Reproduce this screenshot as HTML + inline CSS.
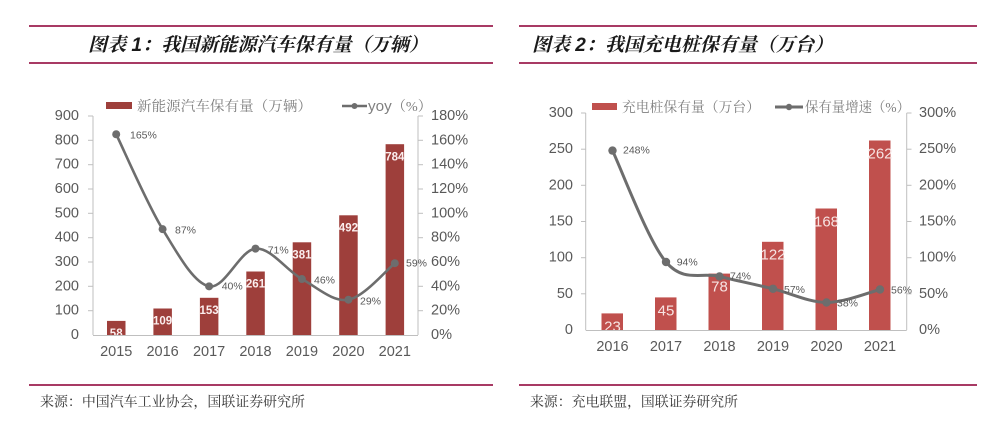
<!DOCTYPE html>
<html><head><meta charset="utf-8"><style>
html,body{margin:0;padding:0;background:#fff;}
svg{display:block;}
.tk{font-family:"Liberation Sans",Arial,sans-serif;font-size:14.5px;fill:#595959;}
.lb{font-family:"Liberation Sans",Arial,sans-serif;font-size:10.5px;fill:#595959;}
.lg{font-family:"Liberation Serif","Noto Serif CJK SC",serif;font-size:14px;fill:#7f7f7f;}
.ft{font-family:"Liberation Serif","Noto Serif CJK SC",serif;font-size:14px;fill:#333;}
.tt{font-family:"Liberation Sans","Noto Serif CJK SC",serif;font-size:19px;font-weight:bold;font-style:italic;fill:#1a1a1a;}
</style></head><body>
<svg width="1000" height="424" viewBox="0 0 1000 424" xmlns="http://www.w3.org/2000/svg">
<defs>
<clipPath id="c1"><rect x="90" y="100" width="330" height="235"/></clipPath>
<clipPath id="c2"><rect x="583" y="100" width="326" height="230"/></clipPath>
</defs>
<rect width="1000" height="424" fill="#fff"/>

<!-- ===== LEFT PANEL ===== -->
<rect x="29" y="25" width="464" height="2" fill="#a83a64"/>
<rect x="29" y="62" width="464" height="2" fill="#a83a64"/>
<text class="tt" x="88" y="51" textLength="340" lengthAdjust="spacingAndGlyphs">图表 1：我国新能源汽车保有量（万辆）</text>

<rect x="29" y="384" width="464" height="2" fill="#a83a64"/>
<text class="ft" x="40" y="406.5" textLength="265" lengthAdjust="spacingAndGlyphs">来源：中国汽车工业协会，国联证券研究所</text>

<!-- legend -->
<rect x="106" y="102" width="26" height="7" fill="#9e3f3b"/>
<text class="lg" x="137" y="111" textLength="175" lengthAdjust="spacingAndGlyphs">新能源汽车保有量（万辆）</text>
<line x1="342" y1="106" x2="367" y2="106" stroke="#6d6d6d" stroke-width="2.5"/>
<circle cx="354.5" cy="106" r="3" fill="#6d6d6d"/>
<text class="lg" x="368" y="111" textLength="64" lengthAdjust="spacingAndGlyphs"><tspan font-family="Liberation Sans" font-size="15">yoy</tspan>（%）</text>

<!-- axes -->
<g stroke="#bfbfbf" stroke-width="1">
<line x1="93" y1="116" x2="93" y2="335"/>
<line x1="418" y1="116" x2="418" y2="335"/>
<line x1="93" y1="335.5" x2="418" y2="335.5"/>
<line x1="88" y1="116" x2="93" y2="116"/><line x1="88" y1="140.3" x2="93" y2="140.3"/><line x1="88" y1="164.7" x2="93" y2="164.7"/><line x1="88" y1="189" x2="93" y2="189"/><line x1="88" y1="213.3" x2="93" y2="213.3"/><line x1="88" y1="237.7" x2="93" y2="237.7"/><line x1="88" y1="262" x2="93" y2="262"/><line x1="88" y1="286.3" x2="93" y2="286.3"/><line x1="88" y1="310.7" x2="93" y2="310.7"/>
<line x1="418" y1="116" x2="423" y2="116"/><line x1="418" y1="140.3" x2="423" y2="140.3"/><line x1="418" y1="164.7" x2="423" y2="164.7"/><line x1="418" y1="189" x2="423" y2="189"/><line x1="418" y1="213.3" x2="423" y2="213.3"/><line x1="418" y1="237.7" x2="423" y2="237.7"/><line x1="418" y1="262" x2="423" y2="262"/><line x1="418" y1="286.3" x2="423" y2="286.3"/><line x1="418" y1="310.7" x2="423" y2="310.7"/>
</g>
<g class="tk" text-anchor="end" dominant-baseline="central">
<text x="79" y="116">900</text><text x="79" y="140.3">800</text><text x="79" y="164.7">700</text><text x="79" y="189">600</text><text x="79" y="213.3">500</text><text x="79" y="237.7">400</text><text x="79" y="262">300</text><text x="79" y="286.3">200</text><text x="79" y="310.7">100</text><text x="79" y="335">0</text>
</g>
<g class="tk" text-anchor="start" dominant-baseline="central">
<text x="431" y="116">180%</text><text x="431" y="140.3">160%</text><text x="431" y="164.7">140%</text><text x="431" y="189">120%</text><text x="431" y="213.3">100%</text><text x="431" y="237.7">80%</text><text x="431" y="262">60%</text><text x="431" y="286.3">40%</text><text x="431" y="310.7">20%</text><text x="431" y="335">0%</text>
</g>
<g class="tk" text-anchor="middle" dominant-baseline="central">
<text x="116.2" y="352">2015</text><text x="162.6" y="352">2016</text><text x="209.1" y="352">2017</text><text x="255.5" y="352">2018</text><text x="301.9" y="352">2019</text><text x="348.4" y="352">2020</text><text x="394.8" y="352">2021</text>
</g>

<!-- bars -->
<g fill="#9e3f3b">
<rect x="107" y="320.9" width="18.5" height="14.1"/>
<rect x="153.4" y="308.5" width="18.5" height="26.5"/>
<rect x="199.9" y="297.8" width="18.5" height="37.2"/>
<rect x="246.3" y="271.5" width="18.5" height="63.5"/>
<rect x="292.7" y="242.3" width="18.5" height="92.7"/>
<rect x="339.2" y="215.3" width="18.5" height="119.7"/>
<rect x="385.6" y="144.2" width="18.5" height="190.8"/>
</g>
<g clip-path="url(#c1)" font-family="Liberation Sans,Arial,sans-serif" font-size="11.5" font-weight="bold" fill="#fbeeee" text-anchor="middle" dominant-baseline="central">
<text x="116.2" y="334">58</text>
<text x="162.6" y="321.7">109</text>
<text x="209.1" y="311">153</text>
<text x="255.5" y="284.7">261</text>
<text x="301.9" y="255.5">381</text>
<text x="348.4" y="228.5">492</text>
<text x="394.8" y="157.5">784</text>
</g>

<!-- line -->
<path d="M116.2,134.25 C123.9,150.07 147.1,203.8 162.6,229.15 C178.1,254.5 193.6,283.1 209.1,286.33 C224.6,289.6 240,249.8 255.5,248.62 C271,247.4 286.4,270.5 301.9,279.03 C317.4,287.55 332.9,302.4 348.4,299.72 C363.9,297.1 387.1,269.3 394.8,263.22" fill="none" stroke="#6d6d6d" stroke-width="2.6"/>
<g fill="#6d6d6d">
<circle cx="116.2" cy="134.25" r="4"/><circle cx="162.6" cy="229.15" r="4"/><circle cx="209.1" cy="286.33" r="4"/><circle cx="255.5" cy="248.62" r="4"/><circle cx="301.9" cy="279.03" r="4"/><circle cx="348.4" cy="299.72" r="4"/><circle cx="394.8" cy="263.22" r="4"/>
</g>
<g class="lb" dominant-baseline="central">
<text x="130" y="135.3">165%</text>
<text x="175" y="230.7">87%</text>
<text x="221.7" y="286.7">40%</text>
<text x="267.7" y="250.7">71%</text>
<text x="314" y="280.7">46%</text>
<text x="360" y="301.7">29%</text>
<text x="406" y="263.7">59%</text>
</g>

<!-- ===== RIGHT PANEL ===== -->
<rect x="519" y="25" width="458" height="2" fill="#a83a64"/>
<rect x="519" y="62" width="458" height="2" fill="#a83a64"/>
<text class="tt" x="532" y="51" textLength="301" lengthAdjust="spacingAndGlyphs">图表 2：我国充电桩保有量（万台）</text>

<rect x="519" y="384" width="458" height="2" fill="#a83a64"/>
<text class="ft" x="530" y="406.5" textLength="208" lengthAdjust="spacingAndGlyphs">来源：充电联盟，国联证券研究所</text>

<!-- legend -->
<rect x="592" y="103" width="25" height="7" fill="#c0504d"/>
<text class="lg" x="622" y="112" textLength="138" lengthAdjust="spacingAndGlyphs">充电桩保有量（万台）</text>
<line x1="775" y1="107" x2="803" y2="107" stroke="#6d6d6d" stroke-width="3"/>
<circle cx="789" cy="107" r="3.2" fill="#6d6d6d"/>
<text class="lg" x="805" y="112" textLength="105" lengthAdjust="spacingAndGlyphs">保有量增速（%）</text>

<!-- axes -->
<g stroke="#bfbfbf" stroke-width="1">
<line x1="585.7" y1="113" x2="585.7" y2="330"/>
<line x1="906.7" y1="113" x2="906.7" y2="330"/>
<line x1="585.7" y1="330.5" x2="906.7" y2="330.5"/>
<line x1="581" y1="113" x2="585.7" y2="113"/><line x1="581" y1="149.2" x2="585.7" y2="149.2"/><line x1="581" y1="185.3" x2="585.7" y2="185.3"/><line x1="581" y1="221.5" x2="585.7" y2="221.5"/><line x1="581" y1="257.7" x2="585.7" y2="257.7"/><line x1="581" y1="293.8" x2="585.7" y2="293.8"/>
<line x1="906.7" y1="113" x2="911.5" y2="113"/><line x1="906.7" y1="149.2" x2="911.5" y2="149.2"/><line x1="906.7" y1="185.3" x2="911.5" y2="185.3"/><line x1="906.7" y1="221.5" x2="911.5" y2="221.5"/><line x1="906.7" y1="257.7" x2="911.5" y2="257.7"/><line x1="906.7" y1="293.8" x2="911.5" y2="293.8"/>
</g>
<g class="tk" text-anchor="end" dominant-baseline="central">
<text x="573" y="113">300</text><text x="573" y="149.2">250</text><text x="573" y="185.3">200</text><text x="573" y="221.5">150</text><text x="573" y="257.7">100</text><text x="573" y="293.8">50</text><text x="573" y="330">0</text>
</g>
<g class="tk" text-anchor="start" dominant-baseline="central">
<text x="919" y="113">300%</text><text x="919" y="149.2">250%</text><text x="919" y="185.3">200%</text><text x="919" y="221.5">150%</text><text x="919" y="257.7">100%</text><text x="919" y="293.8">50%</text><text x="919" y="330">0%</text>
</g>
<g class="tk" text-anchor="middle" dominant-baseline="central">
<text x="612.5" y="347">2016</text><text x="666" y="347">2017</text><text x="719.5" y="347">2018</text><text x="773" y="347">2019</text><text x="826.5" y="347">2020</text><text x="880" y="347">2021</text>
</g>

<!-- bars -->
<g fill="#c0504d">
<rect x="601.5" y="313.4" width="21.5" height="16.6"/>
<rect x="655" y="297.4" width="21.5" height="32.6"/>
<rect x="708.5" y="273.6" width="21.5" height="56.4"/>
<rect x="762" y="241.8" width="21.5" height="88.2"/>
<rect x="815.5" y="208.5" width="21.5" height="121.5"/>
<rect x="869" y="140.5" width="21.5" height="189.5"/>
</g>
<g clip-path="url(#c2)" font-family="Liberation Sans,Arial,sans-serif" font-size="15" fill="#f7e4e3" text-anchor="middle" dominant-baseline="central">
<text x="612.5" y="327">23</text>
<text x="666" y="311">45</text>
<text x="719.5" y="287.2">78</text>
<text x="773" y="255.2">122</text>
<text x="826.5" y="222">168</text>
<text x="880" y="154">262</text>
</g>

<!-- line -->
<path d="M612.5,150.61 C621.4,169.2 648.2,241 666,262.01 C683.8,283 701.7,272 719.5,276.47 C737.3,280.9 755.2,284.4 773,288.77 C790.8,293.1 808.7,302.4 826.5,302.51 C844.3,302.6 871.1,291.7 880,289.49" fill="none" stroke="#6d6d6d" stroke-width="3"/>
<g fill="#6d6d6d">
<circle cx="612.5" cy="150.61" r="4.2"/><circle cx="666" cy="262.01" r="4.2"/><circle cx="719.5" cy="276.47" r="4.2"/><circle cx="773" cy="288.77" r="4.2"/><circle cx="826.5" cy="302.51" r="4.2"/><circle cx="880" cy="289.49" r="4.2"/>
</g>
<g class="lb" font-size="10" dominant-baseline="central">
<text x="623" y="150.5">248%</text>
<text x="676.7" y="262.7">94%</text>
<text x="730" y="276.5">74%</text>
<text x="784" y="290">57%</text>
<text x="837" y="303.5">38%</text>
<text x="891" y="290.7">56%</text>
</g>
</svg>
</body></html>
